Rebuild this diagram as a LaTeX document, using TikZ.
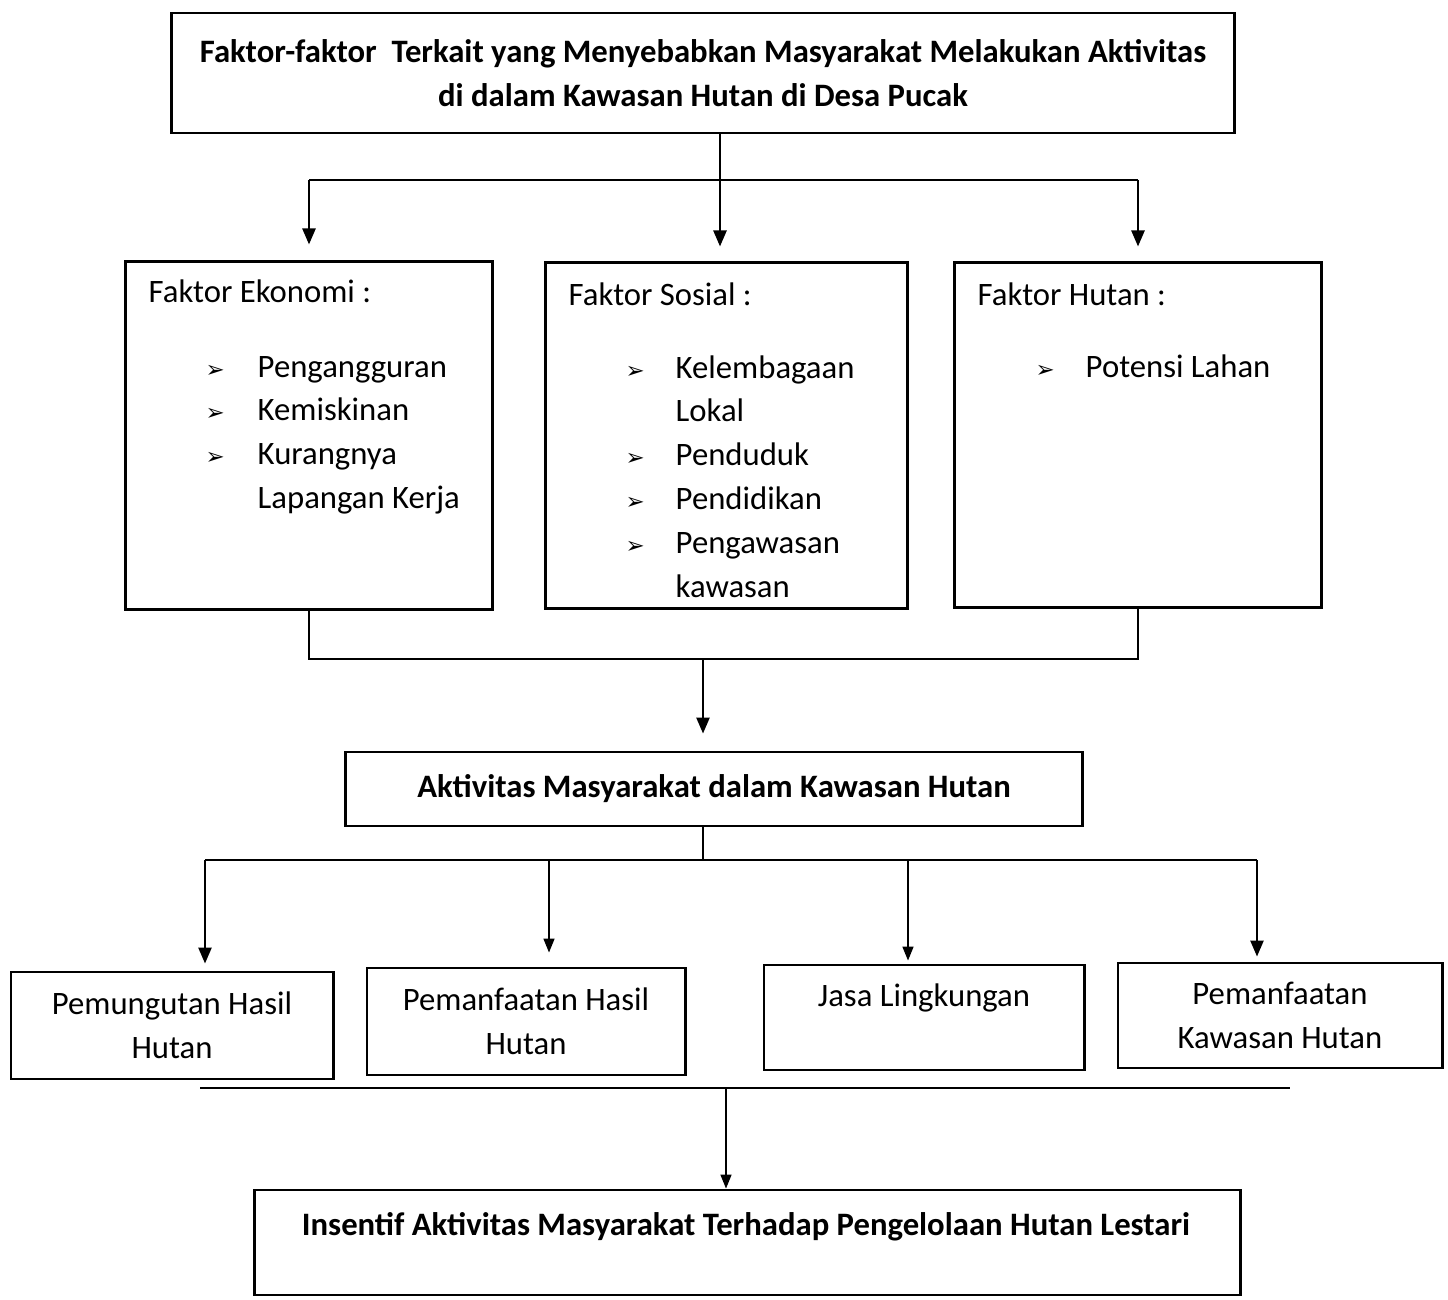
\documentclass[tikz,border=0pt]{standalone}
\usepackage{fontspec}
\setmainfont{Carlito}
\newfontfamily\simbol{DejaVu Sans}
\usetikzlibrary{arrows.meta}
\newcommand{\panah}[1]{\makebox[#1][l]{\simbol\fontsize{6.5}{6.5}\selectfont ➢}}
\begin{document}
\begin{tikzpicture}[x=0.01cm, y=-0.01cm,
    every node/.style={font=\fontsize{9.3}{12.5}\selectfont, inner sep=0pt},
    kotak/.style={draw, line width=0.8pt, rectangle, align=center},
    tebal/.style={font=\fontsize{9.3}{12.5}\selectfont\bfseries},
    garis/.style={line width=0.7pt},
    panahgaris/.style={line width=0.7pt, -{Triangle[width=1.3mm,length=1.6mm]}},
    panahtipis/.style={line width=0.45pt, -{Triangle[width=1.1mm,length=1.4mm]}}]
    \useasboundingbox (0,0) rectangle (1448,1300);

    \node[kotak, tebal, minimum width=10.62cm, minimum height=1.2cm] (judul) at (703,73) {Faktor-faktor~ Terkait yang Menyebabkan Masyarakat Melakukan Aktivitas\\di dalam Kawasan Hutan di Desa Pucak};

    \node[kotak, minimum width=3.66cm, minimum height=3.47cm] (ekonomi) at (309,435.5) {};
    \node[kotak, minimum width=3.61cm, minimum height=3.45cm] (sosial) at (726.5,435.5) {};
    \node[kotak, minimum width=3.66cm, minimum height=3.44cm] (hutan) at (1138,435) {};

    \node[anchor=base west] (ekonomi-h) at (148,303) {Faktor Ekonomi :};
    \node[anchor=base west] (sosial-h) at (568,305) {Faktor Sosial :};
    \node[anchor=base west] (hutan-h) at (977,305) {Faktor Hutan :};

    \node[anchor=base west] (ekonomi-l) at (205,377) {\begin{tabular}[t]{@{}l@{}l@{}}
        \panah{0.52cm} & Pengangguran\\
        \panah{0.52cm} & Kemiskinan\\
        \panah{0.52cm} & Kurangnya\\
        & Lapangan Kerja
    \end{tabular}};
    \node[anchor=base west] (sosial-l) at (625,378) {\begin{tabular}[t]{@{}l@{}l@{}}
        \panah{0.5cm} & Kelembagaan\\
        & Lokal\\
        \panah{0.5cm} & Penduduk\\
        \panah{0.5cm} & Pendidikan\\
        \panah{0.5cm} & Pengawasan\\
        & kawasan
    \end{tabular}};
    \node[anchor=base west] (hutan-l) at (1035,377) {\begin{tabular}[t]{@{}l@{}l@{}}
        \panah{0.5cm} & Potensi Lahan
    \end{tabular}};

    \node[kotak, tebal, minimum width=7.36cm, minimum height=0.74cm] (aktivitas) at (714,789) {Aktivitas Masyarakat dalam Kawasan Hutan};

    \node[kotak, minimum width=3.22cm, minimum height=1.07cm] (pungut) at (172,1025.5) {Pemungutan Hasil\\Hutan};
    \node[kotak, minimum width=3.18cm, minimum height=1.07cm] (manfaat) at (526,1021.5) {Pemanfaatan Hasil\\Hutan};
    \node[kotak, minimum width=3.2cm, minimum height=1.05cm] (jasa) at (924,1017.5) {Jasa Lingkungan\\\phantom{X}};
    \node[kotak, minimum width=3.24cm, minimum height=1.05cm] (kawasan) at (1280,1015.5) {Pemanfaatan\\Kawasan Hutan};

    \node[kotak, minimum width=9.85cm, minimum height=1.05cm] (insentif) at (747.5,1242.5) {};
    \node[tebal, anchor=base] (insentif-t) at (746,1235) {Insentif Aktivitas Masyarakat Terhadap Pengelolaan Hutan Lestari};

    \coordinate (bagi1) at (720,180);
    \draw[garis] (judul.south -| bagi1) -- (bagi1);
    \draw[garis] (ekonomi.north |- bagi1) -- (hutan.north |- bagi1);
    \draw[panahgaris, shorten >=0.16cm] (ekonomi.north |- bagi1) -- (ekonomi.north);
    \draw[panahgaris, shorten >=0.15cm] (bagi1) -- (bagi1 |- sosial.north);
    \draw[panahgaris, shorten >=0.15cm] (hutan.north |- bagi1) -- (hutan.north);

    \coordinate (gabung) at (703,659);
    \draw[garis] (ekonomi.south) -- (ekonomi.south |- gabung) -- (hutan.south |- gabung) -- (hutan.south);
    \draw[panahgaris, shorten >=0.17cm] (gabung) -- (gabung |- aktivitas.north);

    \coordinate (bagi2) at (703,860);
    \coordinate (c1) at (205,860);
    \coordinate (c2) at (549,860);
    \coordinate (c3) at (908,860);
    \coordinate (c4) at (1257,860);
    \draw[garis] (aktivitas.south -| bagi2) -- (bagi2);
    \draw[garis] (c1) -- (c4);
    \draw[panahgaris, shorten >=0.07cm] (c1) -- (c1 |- pungut.north);
    \draw[panahtipis, shorten >=0.14cm] (c2) -- (c2 |- manfaat.north);
    \draw[panahtipis, shorten >=0.03cm] (c3) -- (c3 |- jasa.north);
    \draw[panahgaris, shorten >=0.05cm] (c4) -- (c4 |- kawasan.north);

    \coordinate (kiri) at (200,1088);
    \coordinate (kanan) at (1290,1088);
    \coordinate (turun) at (726,1088);
    \draw[garis] (kiri) -- (kanan);
    \draw[panahtipis] (turun) -- (turun |- insentif.north);
\end{tikzpicture}
\end{document}
